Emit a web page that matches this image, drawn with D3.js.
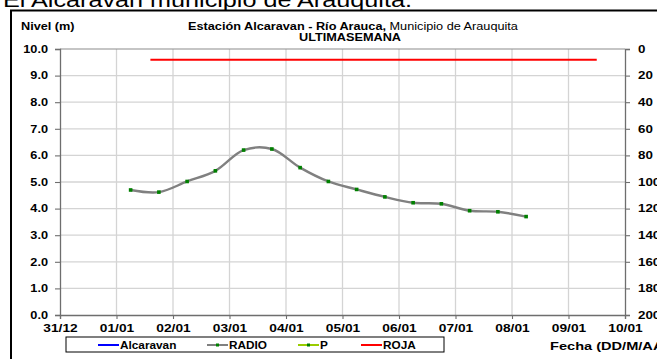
<!DOCTYPE html>
<html><head><meta charset="utf-8">
<script src="https://cdn.jsdelivr.net/npm/d3@7"></script>
<style>
body{margin:0;background:#fff;}
svg{display:block;font-family:Arial,"Liberation Sans",sans-serif;}
</style></head>
<body><svg id="c" width="657" height="359"></svg>
<script>
// Data
const xTickLabels = ["31/12","01/01","02/01","03/01","04/01","05/01","06/01","07/01","08/01","09/01","10/01"];
const radioDays = [1.25,1.75,2.25,2.75,3.25,3.75,4.25,4.75,5.25,5.75,6.25,6.75,7.25,7.75,8.25];
const radioLevels = [4.70,4.62,5.02,5.42,6.20,6.24,5.54,5.02,4.72,4.44,4.22,4.18,3.92,3.88,3.70];
const rojaDays = [1.6,9.5];
const rojaLevels = [9.6,9.6];
const leftTicks = [0,1,2,3,4,5,6,7,8,9,10];
const rightTicks = [0,20,40,60,80,100,120,140,160,180,200];
const legendItems = ["Alcaravan","RADIO","P","ROJA"];
const legendColors = ["#0000ff","#808080","#99cc00","#ff0000"];

const SX = 1.27; // horizontal stretch of the text
const svg = d3.select("#c");
const L=60, R=625, T=49, B=315;
const x = d3.scaleLinear().domain([0,10]).range([L,R]);
const y = d3.scaleLinear().domain([0,10]).range([B,T]);
const y2 = d3.scaleLinear().domain([0,200]).range([T,B]);

function txt(px,py,size,bold,anchor,sx){
  return svg.append("text").attr("transform",`translate(${px},${py}) scale(${sx||SX},1)`)
    .attr("font-size",size).attr("font-weight",bold?"bold":"normal")
    .attr("text-anchor",anchor||"start").attr("fill","#000");
}

// outer frame
svg.append("rect").attr("x",11).attr("y",10.5).attr("width",700).attr("height",400)
  .attr("fill","none").attr("stroke","#000").attr("stroke-width",2);

// top heading (cut off like reference)
txt(3,7,21,false,"start",1.2).text("El Alcaravan municipio de Arauquita.");

// grid
const g = svg.append("g");
g.selectAll(".hg").data(leftTicks.slice(1,-1)).enter().append("line")
  .attr("x1",L).attr("x2",R).attr("y1",d=>y(d)).attr("y2",d=>y(d))
  .attr("stroke","#d4d4d4").attr("stroke-width",1.3);
g.selectAll(".vg").data(d3.range(1,10)).enter().append("line")
  .attr("y1",T).attr("y2",B).attr("x1",d=>x(d)).attr("x2",d=>x(d))
  .attr("stroke","#d4d4d4").attr("stroke-width",1.3);
g.append("line").attr("x1",L).attr("x2",R).attr("y1",T).attr("y2",T).attr("stroke","#8c8c8c").attr("stroke-width",1.2);

// axes
const axL = d3.axisLeft(y).tickValues(leftTicks).tickFormat(d3.format(".1f")).tickSize(5);
const axR = d3.axisRight(y2).tickValues(rightTicks).tickFormat(d3.format("d")).tickSize(5);
const axB = d3.axisBottom(x).tickValues(d3.range(0,11)).tickFormat((d,i)=>xTickLabels[i]).tickSize(4).tickPadding(5);
function style(sel){
  sel.selectAll("path").attr("stroke","#6e6e6e").attr("stroke-width",1.3);
  sel.selectAll("line").attr("stroke","#6e6e6e").attr("stroke-width",1.1);
  sel.selectAll("text").attr("font-size",10).attr("font-weight","bold").attr("fill","#000")
    .attr("font-family","Arial,'Liberation Sans',sans-serif");
}
svg.append("g").attr("transform",`translate(${L},0)`).call(axL).call(style)
  .selectAll("text").attr("x",-12/SX).attr("transform",`scale(${SX},1)`);
svg.append("g").attr("transform",`translate(${R},0)`).call(axR).call(style)
  .selectAll("text").attr("font-size",10.5).attr("x",13/SX).attr("transform",`scale(${SX},1)`);
svg.append("g").attr("transform",`translate(0,${B})`).call(axB).call(style)
  .selectAll("text").attr("font-size",10.8).attr("transform",`scale(${SX},1)`);

// ROJA line
svg.append("path").datum(rojaDays.map((d,i)=>[d,rojaLevels[i]]))
  .attr("d",d3.line().x(d=>x(d[0])).y(d=>y(d[1])))
  .attr("stroke","#ff0000").attr("stroke-width",2).attr("fill","none");

// RADIO
const pts = radioDays.map((d,i)=>[d,radioLevels[i]]);
svg.append("path").datum(pts)
  .attr("d",d3.line().x(d=>x(d[0])).y(d=>y(d[1])).curve(d3.curveCatmullRom.alpha(0.5)))
  .attr("stroke","#808080").attr("stroke-width",2.4).attr("fill","none");
svg.selectAll(".pt").data(pts).enter().append("rect")
  .attr("x",d=>x(d[0])-1.8).attr("y",d=>y(d[1])-1.8).attr("width",3.6).attr("height",3.6)
  .attr("fill","#008000");

// titles
txt(21,30,10,true).text("Nivel (m)");
const t = txt(353,30,10,false,"middle");
t.append("tspan").attr("font-weight","bold").text("Estación Alcaravan - Río Arauca,");
t.append("tspan").text(" Municipio de Arauquita");
txt(350,41,10,true,"middle").text("ULTIMASEMANA");
txt(550,349.5,11.5,true,"start",1.27).text("Fecha (DD/M/AA)");

// legend
svg.append("rect").attr("x",66).attr("y",337).attr("width",378).attr("height",15)
  .attr("fill","#fff").attr("stroke","#000").attr("stroke-width",1);
const lx = [98,207,298,361];
legendItems.forEach((n,i)=>{
  svg.append("line").attr("x1",lx[i]).attr("x2",lx[i]+21).attr("y1",345).attr("y2",345)
    .attr("stroke",legendColors[i]).attr("stroke-width",2);
  if(i===1||i===2) svg.append("rect").attr("x",lx[i]+9).attr("y",343.5).attr("width",3).attr("height",3).attr("fill","#008000");
  txt(lx[i]+22,348.5,10,true,"start",1.18).text(n);
});
</script></body></html>
